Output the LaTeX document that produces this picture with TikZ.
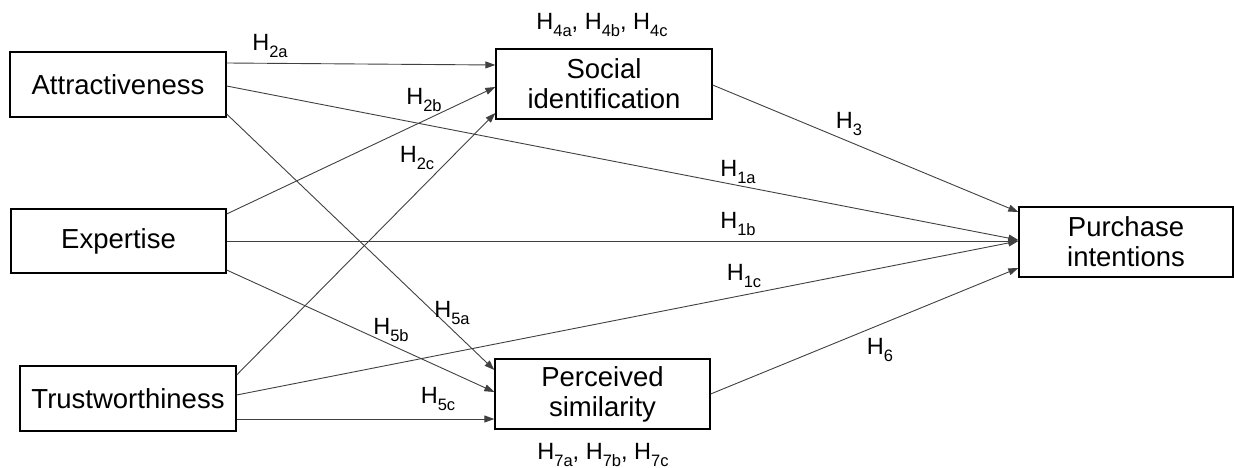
\documentclass[tikz,border=0pt]{standalone}
\usepackage{fontspec}
\setmainfont{Liberation Sans}
\usetikzlibrary{arrows.meta}

% hypothesis label: H with a lowered, smaller index
\newcommand\hyp[1]{H\raisebox{-0.28em}{\fontsize{16.5}{16.5}\selectfont #1}}

\tikzset{
  construct/.style={draw=black, line width=1.3pt, fill=white, inner sep=0pt,
    align=center, font=\fontsize{27.5}{30}\selectfont},
  path/.style={draw=black!75, line width=0.9pt, -{Triangle[length=10pt,width=7pt]}},
  hlabel/.style={inner sep=0pt, font=\fontsize{23.5}{25}\selectfont}
}

\begin{document}
\begin{tikzpicture}[x=1pt, y=-1pt]
\useasboundingbox (0,0) rectangle (1234,468);

% constructs
\node[construct, minimum width=216pt, minimum height=65pt] (attr) at (118,84.5) {Attractiveness};
\node[construct, minimum width=215pt, minimum height=64pt] (expe) at (118.5,241) {Expertise};
\node[construct, minimum width=216pt, minimum height=65pt] (trust) at (128,398.5) {Trustworthiness};
\node[construct, minimum width=216pt, minimum height=70pt] (soc) at (604,84) {Social\\identification};
\node[construct, minimum width=215pt, minimum height=70pt] (perc) at (602.5,394) {Perceived\\similarity};
\node[construct, minimum width=214pt, minimum height=70pt] (purch) at (1126,242) {Purchase\\intentions};

% paths from attractiveness
\draw[path] ([yshift=21.5pt]attr.east) -- ([yshift=19pt]soc.west);
\draw[path] ([yshift=-1.5pt]attr.east) -- ([yshift=2pt]purch.west);
\draw[path] ([yshift=-29.5pt]attr.east) -- ([yshift=24pt]perc.west);

% paths from expertise
\draw[path] ([yshift=27pt]expe.east) -- ([yshift=-3pt]soc.west);
\draw[path] ([yshift=0pt]expe.east) -- ([yshift=1pt]purch.west);
\draw[path] ([yshift=-29pt]expe.east) -- ([yshift=2pt]perc.west);

% paths from trustworthiness
\draw[path] ([yshift=23.5pt]trust.east) -- ([yshift=-29pt]soc.west);
\draw[path] ([yshift=3.5pt]trust.east) -- ([yshift=1pt]purch.west);
\draw[path] ([yshift=-20.5pt]trust.east) -- ([yshift=-25pt]perc.west);

% mediators to purchase intentions
\draw[path] ([yshift=-1pt]soc.east) -- ([yshift=30pt]purch.west);
\draw[path] ([yshift=0pt]perc.east) -- ([yshift=-26pt]purch.west);

% hypothesis labels
\node[hlabel] (h2a) at (270,46) {\hyp{2a}};
\node[hlabel] (h2b) at (424,100) {\hyp{2b}};
\node[hlabel] (h2c) at (417,158) {\hyp{2c}};
\node[hlabel] (h4) at (602,25) {\hyp{4a}, \hyp{4b}, \hyp{4c}};
\node[hlabel] (h3) at (849,124) {\hyp{3}};
\node[hlabel] (h1a) at (738,172) {\hyp{1a}};
\node[hlabel] (h1b) at (738,224) {\hyp{1b}};
\node[hlabel] (h1c) at (744,276) {\hyp{1c}};
\node[hlabel] (h5a) at (452,313) {\hyp{5a}};
\node[hlabel] (h5b) at (391,330) {\hyp{5b}};
\node[hlabel] (h5c) at (438,399) {\hyp{5c}};
\node[hlabel] (h6) at (880,350) {\hyp{6}};
\node[hlabel] (h7) at (603,455) {\hyp{7a}, \hyp{7b}, \hyp{7c}};
\end{tikzpicture}
\end{document}
